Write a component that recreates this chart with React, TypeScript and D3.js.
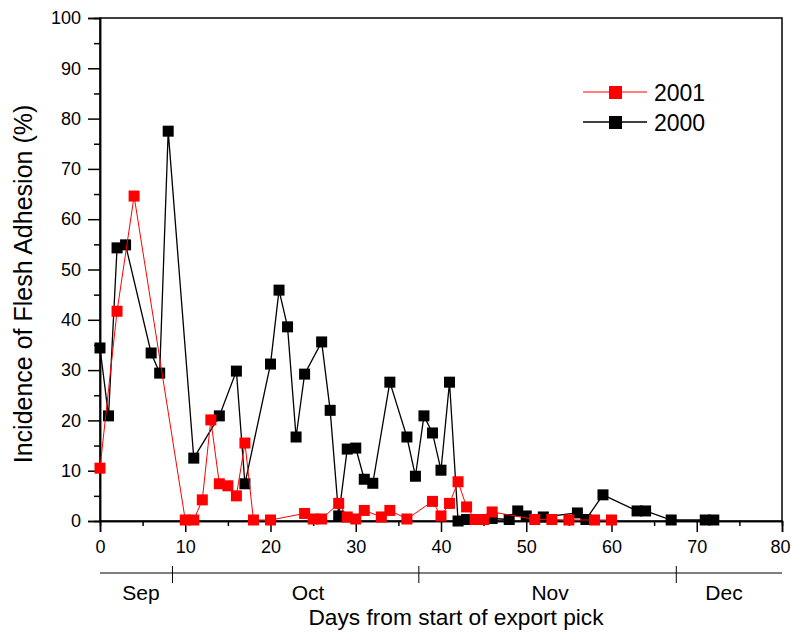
import React, { useRef, useEffect } from 'react';
import * as d3 from 'd3';

// 2000 season
const days2000 = [0, 1, 2, 3, 6, 7, 8, 11, 14, 16, 17, 20, 21, 22, 23, 24, 26, 27, 28, 29, 30, 31, 32, 34, 36, 37, 38, 39, 40, 41, 42, 43, 46, 48, 49, 50, 52, 56, 57, 59, 63, 64, 67, 71, 72];
const values2000 = [34.4, 20.9, 54.3, 54.9, 33.4, 29.4, 77.5, 12.5, 20.9, 29.8, 7.4, 31.2, 45.9, 38.6, 16.7, 29.2, 35.6, 22, 1, 14.3, 14.5, 8.3, 7.5, 27.6, 16.7, 8.9, 20.9, 17.5, 10.1, 27.6, 0, 0.3, 0.5, 0.3, 2, 1, 0.8, 1.6, 0.3, 5.2, 2, 2, 0.2, 0.2, 0.2];

// 2001 season
const days2001 = [0, 2, 4, 10, 11, 12, 13, 14, 15, 16, 17, 18, 20, 24, 25, 26, 28, 29, 30, 31, 33, 34, 36, 39, 40, 41, 42, 43, 44, 45, 46, 51, 53, 55, 58, 60];
const values2001 = [10.5, 41.7, 64.6, 0.2, 0.2, 4.2, 20.1, 7.4, 7, 5, 15.5, 0.2, 0.2, 1.5, 0.4, 0.4, 3.5, 0.8, 0.4, 2.1, 0.8, 2.1, 0.4, 3.9, 1, 3.5, 7.8, 2.8, 0.3, 0.3, 1.8, 0.3, 0.3, 0.2, 0.2, 0.2];

const xTicks = [0, 10, 20, 30, 40, 50, 60, 70, 80];
const yTicks = [0, 10, 20, 30, 40, 50, 60, 70, 80, 90, 100];
const monthBreaks = [8.5, 37.4, 67.6];
const months = ['Sep', 'Oct', 'Nov', 'Dec'];
const monthCenters = [4.8, 24.4, 52.8, 73.2];

const W = 791;
const H = 633;
const FONT = 'Liberation Sans, Arial, sans-serif';

const App = () => {
  const ref = useRef<SVGSVGElement>(null);

  useEffect(() => {
    const svg = d3.select(ref.current);
    svg.selectAll('*').remove();

    const x = d3.scaleLinear().domain([0, 80]).range([100, 782]);
    const y = d3.scaleLinear().domain([0, 100]).range([521, 18]);

    // frame
    svg.append('rect')
      .attr('x', 100).attr('y', 18)
      .attr('width', 682).attr('height', 503)
      .attr('fill', 'none').attr('stroke', '#000').attr('stroke-width', 1.5);

    // x axis
    const gx = svg.append('g').attr('transform', 'translate(0,521)');
    gx.call(d3.axisBottom(x).tickValues(d3.range(5, 80, 10)).tickSize(5).tickFormat(() => ''));
    gx.append('g').call(d3.axisBottom(x).tickValues(xTicks).tickSize(11).tickPadding(8).tickFormat(d3.format('d')));
    gx.selectAll('.domain').attr('stroke-width', 1.5);
    gx.selectAll('line').attr('stroke-width', 1.5);
    gx.selectAll('text').attr('font-family', FONT).attr('font-size', 18).attr('fill', '#000');
    // last label sits at the right edge, keep it inside the page
    gx.selectAll('text').filter((d) => d === 80).attr('dx', -2);

    // y axis
    const gy = svg.append('g').attr('transform', 'translate(100,0)');
    gy.call(d3.axisLeft(y).tickValues(d3.range(5, 100, 10)).tickSize(6).tickFormat(() => ''));
    gy.append('g').call(d3.axisLeft(y).tickValues(yTicks).tickSize(12).tickPadding(7).tickFormat(d3.format('d')));
    gy.selectAll('.domain').attr('stroke-width', 1.5);
    gy.selectAll('line').attr('stroke-width', 1.5);
    gy.selectAll('text').attr('font-family', FONT).attr('font-size', 18).attr('fill', '#000');

    // month axis
    const gm = svg.append('g');
    gm.append('line')
      .attr('x1', x(0)).attr('x2', x(80))
      .attr('y1', 573).attr('y2', 573)
      .attr('stroke', '#000').attr('stroke-width', 1.2);
    gm.selectAll('line.brk').data(monthBreaks).join('line')
      .attr('class', 'brk')
      .attr('x1', (d) => x(d)).attr('x2', (d) => x(d))
      .attr('y1', 566).attr('y2', 583)
      .attr('stroke', '#000').attr('stroke-width', 1);
    gm.selectAll('text').data(months).join('text')
      .attr('x', (_, i) => x(monthCenters[i]))
      .attr('y', 600)
      .attr('text-anchor', 'middle')
      .attr('font-family', FONT).attr('font-size', 21)
      .text((d) => d);

    // titles
    svg.append('text')
      .attr('x', 456).attr('y', 625)
      .attr('text-anchor', 'middle')
      .attr('font-family', FONT).attr('font-size', 22.7)
      .text('Days from start of export pick');
    svg.append('text')
      .attr('transform', 'translate(32,284) rotate(-90)')
      .attr('text-anchor', 'middle')
      .attr('font-family', FONT).attr('font-size', 25)
      .text('Incidence of Flesh Adhesion (%)');

    const series = [
      { days: days2000, values: values2000, color: '#000', width: 1.3 },
      { days: days2001, values: values2001, color: '#ff0000', width: 1 },
    ];

    const line = d3.line<[number, number]>().x((d) => x(d[0])).y((d) => y(d[1]));

    series.forEach((s) => {
      const pts: [number, number][] = s.days.map((d, i) => [d, s.values[i]]);
      const g = svg.append('g');
      g.append('path')
        .attr('d', line(pts))
        .attr('fill', 'none')
        .attr('stroke', s.color)
        .attr('stroke-width', s.width);
      g.selectAll('rect').data(pts).join('rect')
        .attr('x', (d) => x(d[0]) - 5.5)
        .attr('y', (d) => y(d[1]) - 5.5)
        .attr('width', 11).attr('height', 11)
        .attr('fill', s.color);
    });

    // legend
    const legend = [
      { label: '2001', color: '#ff0000', w: 1 },
      { label: '2000', color: '#000', w: 1.3 },
    ];
    const lg = svg.append('g').attr('transform', 'translate(583,92)');
    legend.forEach((l, i) => {
      const row = lg.append('g').attr('transform', `translate(0,${i * 30})`);
      row.append('line').attr('x1', 0).attr('x2', 64).attr('y1', 0).attr('y2', 0)
        .attr('stroke', l.color).attr('stroke-width', l.w);
      row.append('rect').attr('x', 26).attr('y', -6).attr('width', 13).attr('height', 13)
        .attr('fill', l.color);
      row.append('text').attr('x', 71).attr('y', 9)
        .attr('font-family', FONT).attr('font-size', 23)
        .text(l.label);
    });
  }, []);

  return (
    <svg
      ref={ref}
      width={W}
      height={H}
      style={{ position: 'absolute', left: 0, top: 0, background: '#fff' }}
    />
  );
};

export default App;
